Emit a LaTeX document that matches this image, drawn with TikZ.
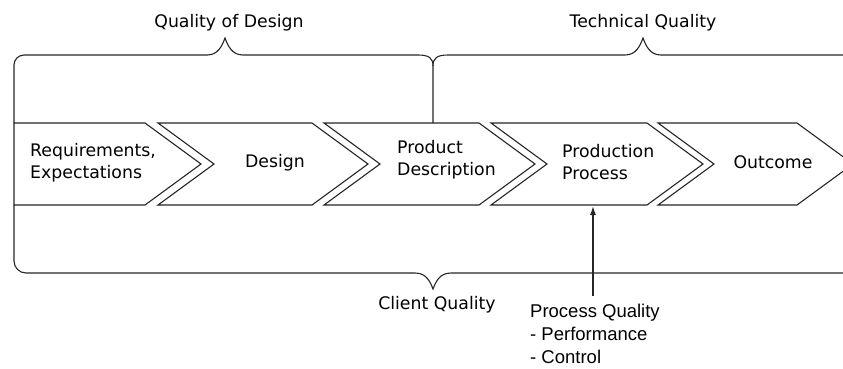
\documentclass[tikz,border=0pt]{standalone}
\usepackage{fontspec}
\setmainfont{DejaVu Sans}
\newfontfamily\notefont{Liberation Sans}
\usetikzlibrary{arrows.meta}

\begin{document}
\begin{tikzpicture}[
        x=1pt, y=-1pt, % координаты в пикселях, ось y вниз
        zone/.style = {draw=black!85, line width=1.1pt}, % скобки
        stage/.style = {draw=black!85, line width=1.1pt, fill=white}, % стрелки-этапы
        cell/.style = {align=left, inner sep=0pt, font=\fontsize{17.3}{22}\selectfont},
        kant/.style = {inner sep=0pt, font=\fontsize{17.3}{22}\selectfont},
        note/.style = {align=left, inner sep=0pt, font=\notefont\fontsize{18.5}{23}\selectfont},
        arr/.style = {draw=black!85, line width=1.3pt, -{Latex[length=9pt, width=6pt]}},
    ]
    \useasboundingbox (0,0) rectangle (843,368);
    \clip (0,0) rectangle (843,368);

    % этапы
    \draw[stage] (14,123) -- (145,123) -- (201,164) -- (145,205) -- (14,205) -- cycle;
    \foreach \l/\r in {158/312, 324/479, 491/647, 658/797}
        \draw[stage] (\l,123) -- (\r,123) -- (\r+56,164) -- (\r,205) -- (\l,205) -- (\l+56,164) -- cycle;

    \node[cell, anchor=west] (req) at (30,163) {Requirements,\\Expectations};
    \node[cell] (des) at (275,163) {Design};
    \node[cell, anchor=west] (pdesc) at (397,160) {Product\\Description};
    \node[cell, anchor=west] (pproc) at (562,162) {Production\\Process};
    \node[cell] (outc) at (773,162) {Outcome};

    % верхние скобки
    \draw[zone, rounded corners=10] (14,123) |- (207,55);
    \draw[zone] (207,55) .. controls (218,55) and (222,46) .. (225,38)
        .. controls (228,46) and (232,55) .. (243,55) -- (418,55)
        .. controls (429,55) and (433,58) .. (433,66) -- (433,123);
    \draw[zone] (433,66) .. controls (433,58) and (437,55) .. (448,55) -- (625,55)
        .. controls (636,55) and (640,46) .. (643,38)
        .. controls (646,46) and (650,55) .. (661,55) -- (850,55);

    % нижняя скобка
    \draw[zone, rounded corners=12] (14,205) |- (415,273);
    \draw[zone] (415,273) .. controls (426,273) and (430,281) .. (433,289)
        .. controls (436,281) and (440,273) .. (451,273) -- (850,273);

    \node[kant] (qd) at (229,23) {Quality of Design};
    \node[kant] (tq) at (643,23) {Technical Quality};
    \node[kant] (cq) at (437,305) {Client Quality};
    \node[note, anchor=north west] (pq) at (530,304) {Process Quality\\- Performance\\- Control};

    \coordinate (pbot) at (593,206);
    \draw[arr] ([yshift=8pt]pq.north -| pbot) -- (pbot);
\end{tikzpicture}
\end{document}
